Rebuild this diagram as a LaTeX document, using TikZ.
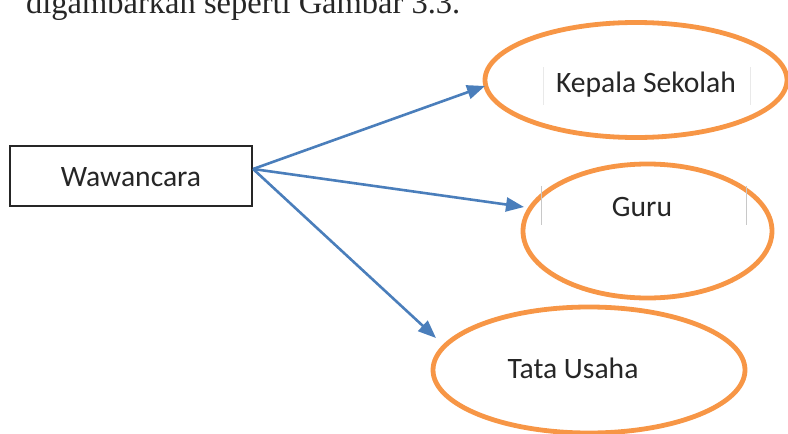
\documentclass[tikz,border=0pt]{standalone}
\usepackage{fontspec}
\setmainfont{Carlito}
\newfontfamily\serifbook{Liberation Serif}
\usetikzlibrary{arrows.meta,shapes.geometric}
\definecolor{ocorange}{HTML}{F79646}
\definecolor{ocblue}{HTML}{4A7EBB}
\definecolor{inktext}{HTML}{262626}
\definecolor{faintline}{HTML}{C8C8C8}
\tikzset{
  labeltext/.style={text=inktext, font=\fontsize{29.6}{34}\selectfont, inner sep=0pt},
  oval/.style={draw=ocorange, line width=4.8pt, ellipse, inner sep=0pt},
  boxnode/.style={draw=inktext, line width=2.2pt, rectangle, inner sep=0pt},
  link/.style={draw=ocblue, line width=2.6pt, -{Triangle[length=18pt,width=14pt]}},
  guide/.style={draw=faintline, line width=0.8pt}
}
\begin{document}
\begin{tikzpicture}[x=1pt,y=-1pt]
\useasboundingbox (0,0) rectangle (788,434);
\clip (0,0) rectangle (788,434);
% top line of running text (cut by the page edge, as in the reference)
\node[anchor=base west, inner sep=0pt, text=inktext, font=\serifbook\fontsize{32.5}{38}\selectfont] (caption) at (26,13) {digambarkan seperti Gambar 3.3.};
% source box
\node[boxnode, minimum width=242pt, minimum height=60pt] (w) at (131,176) {};
\node[labeltext] (wt) at (131,177) {Wawancara};
% ellipses
\node[oval, minimum width=302pt, minimum height=115pt] (ks) at (636,80) {};
\node[oval, minimum width=249pt, minimum height=134pt] (gu) at (647.5,231) {};
\node[oval, minimum width=312pt, minimum height=126pt] (tu) at (589,370) {};
% faint text-box guides
\draw[guide, draw=faintline!40] (543,67) -- (543,105);
\draw[guide, draw=faintline!40] (750,67) -- (750,105);
\draw[guide] (541,186) -- (541,225);
\draw[guide] (746,186) -- (746,225);
% labels
\node[labeltext] (kst) at (646,85) {Kepala Sekolah};
\node[labeltext] (gut) at (642,207) {Guru};
\node[labeltext] (tut) at (573,368) {Tata Usaha};
% connectors
\coordinate (src) at ([yshift=7pt]w.east);
\coordinate (t1) at (485,86);
\coordinate (t2) at (524,207);
\coordinate (t3) at (436,338);
\draw[link] (src) -- (t1);
\draw[link] (src) -- (t2);
\draw[link] (src) -- (t3);
\end{tikzpicture}
\end{document}
